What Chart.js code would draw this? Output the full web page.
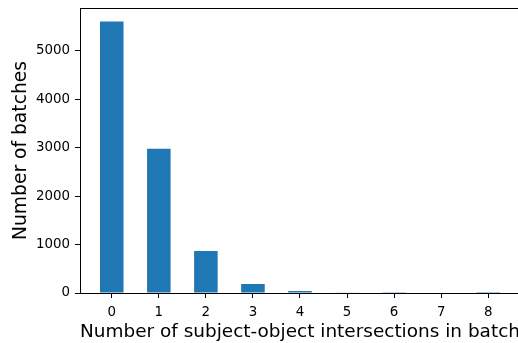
<!DOCTYPE html>
<html>
<head>
<meta charset="utf-8">
<script src="https://cdn.jsdelivr.net/npm/chart.js@4/dist/chart.umd.min.js"></script>
<style>
  html, body { margin: 0; padding: 0; background: #fff; overflow: hidden; }
  #wrap { position: relative; width: 524px; height: 343px; }
</style>
</head>
<body>
<div id="wrap"><canvas id="c" width="524" height="343"></canvas></div>
<script>
// Histogram of subject-object intersections per batch
const intersections = [0, 1, 2, 3, 4, 5, 6, 7, 8];
const batchCounts = [5600, 2975, 868, 186, 41, 8, 4, 0, 2];
const yTicks = [0, 1000, 2000, 3000, 4000, 5000];

const xLabel = 'Number of subject-object intersections in batch';
const yLabel = 'Number of batches';

const FONT = "'DejaVu Sans', sans-serif";

// Draws the top and right spines so the plot area is fully framed
const frame = {
  id: 'frame',
  afterDraw(chart) {
    const { ctx, chartArea: a } = chart;
    ctx.save();
    ctx.strokeStyle = '#000';
    ctx.lineWidth = 1;
    ctx.beginPath();
    ctx.moveTo(a.left, a.top + 0.5);
    ctx.lineTo(a.right, a.top + 0.5);
    ctx.moveTo(a.right - 0.5, a.top);
    ctx.lineTo(a.right - 0.5, a.bottom);
    ctx.stroke();
    ctx.restore();
  }
};

new Chart(document.getElementById('c'), {
  type: 'bar',
  data: {
    datasets: [{
      data: intersections.map((x, i) => ({ x: x, y: batchCounts[i] })),
      backgroundColor: '#1f77b4',
      borderWidth: 0,
      categoryPercentage: 1,
      barPercentage: 0.5
    }]
  },
  options: {
    responsive: false,
    animation: false,
    devicePixelRatio: 1,
    layout: { autoPadding: false, padding: { top: 8, right: 4, left: 0, bottom: 0 } },
    plugins: { legend: { display: false }, tooltip: { enabled: false } },
    scales: {
      x: {
        type: 'linear',
        min: -0.675,
        max: 8.675,
        offset: false,
        afterBuildTicks(scale) {
          scale.ticks = intersections.map(v => ({ value: v }));
        },
        afterFit(scale) { scale.height = 50; scale.paddingLeft = 0; scale.paddingRight = 0; },
        grid: { offset: false, drawOnChartArea: false, tickLength: 5, tickColor: '#000', tickWidth: 1 },
        border: { color: '#000', width: 1 },
        ticks: {
          color: '#000',
          font: { family: FONT, size: 13.4 },
          padding: 6,
          maxRotation: 0,
          autoSkip: false,
          callback: v => String(v)
        },
        title: {
          display: true,
          text: xLabel,
          color: '#000',
          font: { family: FONT, size: 18.5 },
          padding: { top: 0, bottom: 0 }
        }
      },
      y: {
        min: 0,
        max: 5880,
        afterBuildTicks(scale) {
          scale.ticks = yTicks.map(v => ({ value: v }));
        },
        afterFit(scale) { scale.width = 80; scale.paddingTop = 0; scale.paddingBottom = 0; },
        grid: { drawOnChartArea: false, tickLength: 5, tickColor: '#000', tickWidth: 1 },
        border: { color: '#000', width: 1 },
        ticks: {
          color: '#000',
          font: { family: FONT, size: 13.4 },
          padding: 5,
          callback: v => String(v)
        },
        title: {
          display: true,
          text: yLabel,
          color: '#000',
          font: { family: FONT, size: 18.7 },
          padding: { top: 10, bottom: 0 }
        }
      }
    }
  },
  plugins: [frame]
});
</script>
</body>
</html>
